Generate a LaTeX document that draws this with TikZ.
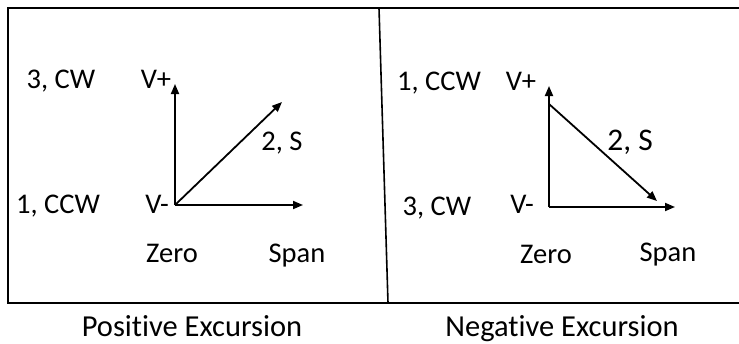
\documentclass[tikz,border=0pt]{standalone}
\usepackage{fontspec}
\setmainfont[Ligatures=NoCommon]{Carlito}
\usetikzlibrary{arrows.meta,positioning}

\begin{document}
\begin{tikzpicture}[
    x=1pt, y=-1pt,
    >={Triangle[length=10pt,width=8pt]},
    frame/.style={line width=2.7pt},
    axis/.style={->, line width=1.8pt},
    lbl/.style={font=\fontsize{28.5}{32}\selectfont, anchor=base, inner sep=0pt},
    caption/.style={font=\fontsize{30.5}{34}\selectfont, anchor=base, inner sep=0pt}
]
\useasboundingbox (0,0) rectangle (739,343);

% frame and divider
\coordinate (tl) at (8,8);
\coordinate (tr) at (739,8);
\coordinate (bl) at (8,303);
\coordinate (br) at (739,303);
\coordinate (dt) at (379,8);
\coordinate (db) at (388,303);
\draw[frame] (tr) -- (tl) -- (bl) -- (br);
\draw[line width=1.6pt] (dt) -- (db);

% positive excursion
\coordinate (pzero) at (175,205);
\coordinate (pup) at (175,84);
\coordinate (pright) at (303,205);
\coordinate (pdiag) at (282,102);
\draw[axis] (pzero) -- (pup);
\draw[axis] (pzero) -- (pright);
\draw[axis] (pzero) -- (pdiag);

\node[lbl] (pcw) at (61,88) {3, CW};
\node[lbl] (pvp) at (156,88) {V+};
\node[lbl] (pccw) at (58,213) {1, CCW};
\node[lbl] (pvm) at (157,213) {V-};
\node[lbl] (ps) at (282,150) {2, S};
\node[lbl] (pz) at (172,262) {Zero};
\node[lbl] (psp) at (297,262) {Span};
\node[caption] (pcap) at (192,336) {Positive Excursion};

% negative excursion
\coordinate (nzero) at (549,207);
\coordinate (nup) at (549,86);
\coordinate (nright) at (675,207);
\coordinate (ntop) at (549,104);
\coordinate (ndiag) at (657,201);
\draw[axis] (nzero) -- (nup);
\draw[axis] (nzero) -- (nright);
\draw[axis] (ntop) -- (ndiag);

\node[lbl] (nccw) at (439,90) {1, CCW};
\node[lbl] (nvp) at (521,90) {V+};
\node[lbl] (ncw) at (437,215) {3, CW};
\node[lbl] (nvm) at (522,213) {V-};
\node[lbl, font=\fontsize{31.5}{35}\selectfont] (ns) at (630,150) {2, S};
\node[lbl] (nz) at (546,263) {Zero};
\node[lbl] (nsp) at (668,261) {Span};
\node[caption] (ncap) at (562,336) {Negative Excursion};
\end{tikzpicture}
\end{document}
